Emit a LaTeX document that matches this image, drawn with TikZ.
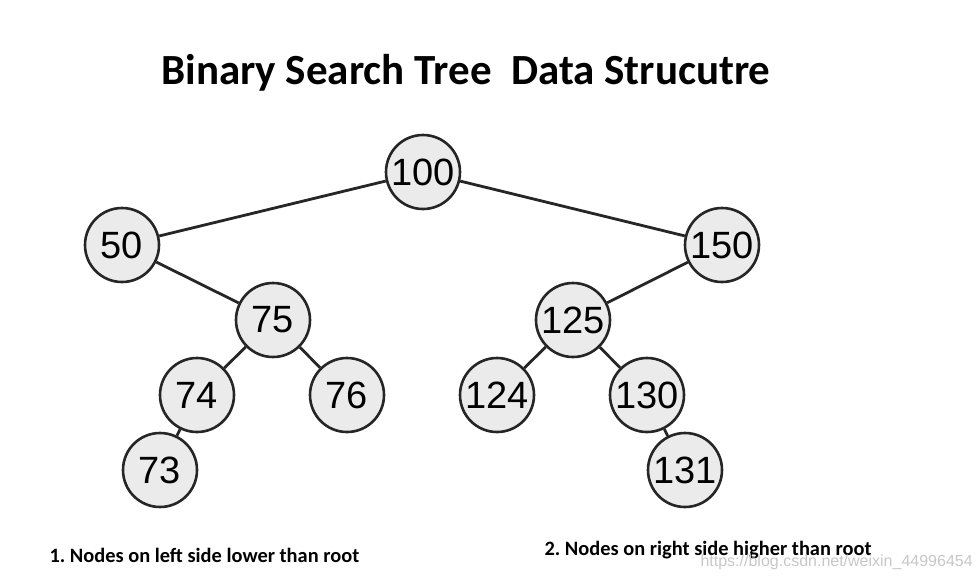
\documentclass[tikz,border=0pt]{standalone}
\usepackage{fontspec}
\setmainfont{Liberation Sans}
\newfontfamily\calibri{Carlito}
\frenchspacing
\begin{document}
\begin{tikzpicture}[x=1pt,y=-1pt,
  treenode/.style={circle, draw=black!85, fill=black!8, line width=2.6pt,
    minimum size=74pt, inner sep=0pt, font=\fontsize{38}{38}\selectfont},
  treeedge/.style={draw=black!85, line width=2.8pt}]
  \useasboundingbox (0,0) rectangle (980,579);
  % title
  \node (title) at (466,73) {\calibri\bfseries\fontsize{43}{43}\selectfont Binary Search Tree\ \ Data Strucutre};
  % tree
  \node[treenode] (n100) at (423,172) {100};
  \node[treenode] (n50)  at (122,245) {50};
  \node[treenode] (n150) at (722,245) {150};
  \node[treenode] (n75)  at (273,320) {75};
  \node[treenode] (n125) at (573,320) {125};
  \node[treenode] (n74)  at (197,395) {74};
  \node[treenode] (n76)  at (347,395) {76};
  \node[treenode] (n124) at (497,395) {124};
  \node[treenode] (n130) at (647,395) {130};
  \node[treenode] (n73)  at (160,470) {73};
  \node[treenode] (n131) at (685,470) {131};
  \path[treeedge]
  (n100) edge (n50)
  edge (n150)
  (n50) edge (n75)
  (n75) edge (n74)
  edge (n76)
  (n74) edge (n73)
  (n150) edge (n125)
  (n125) edge (n124)
  edge (n130)
  (n130) edge (n131);
  % notes
  \node[anchor=west] (noteleft) at (46,555) {\calibri\bfseries\fontsize{20.4}{20.4}\selectfont 1. Nodes on left side lower than root};
  \node[anchor=west] (noteright) at (541,550) {\calibri\bfseries\fontsize{20.4}{20.4}\selectfont 2. Nodes on right side higher than root};
  \node[anchor=west, text=black!22] (mark) at (697,562) {\fontsize{16}{16}\selectfont https://blog.csdn.net/weixin\_44996454};
\end{tikzpicture}
\end{document}
